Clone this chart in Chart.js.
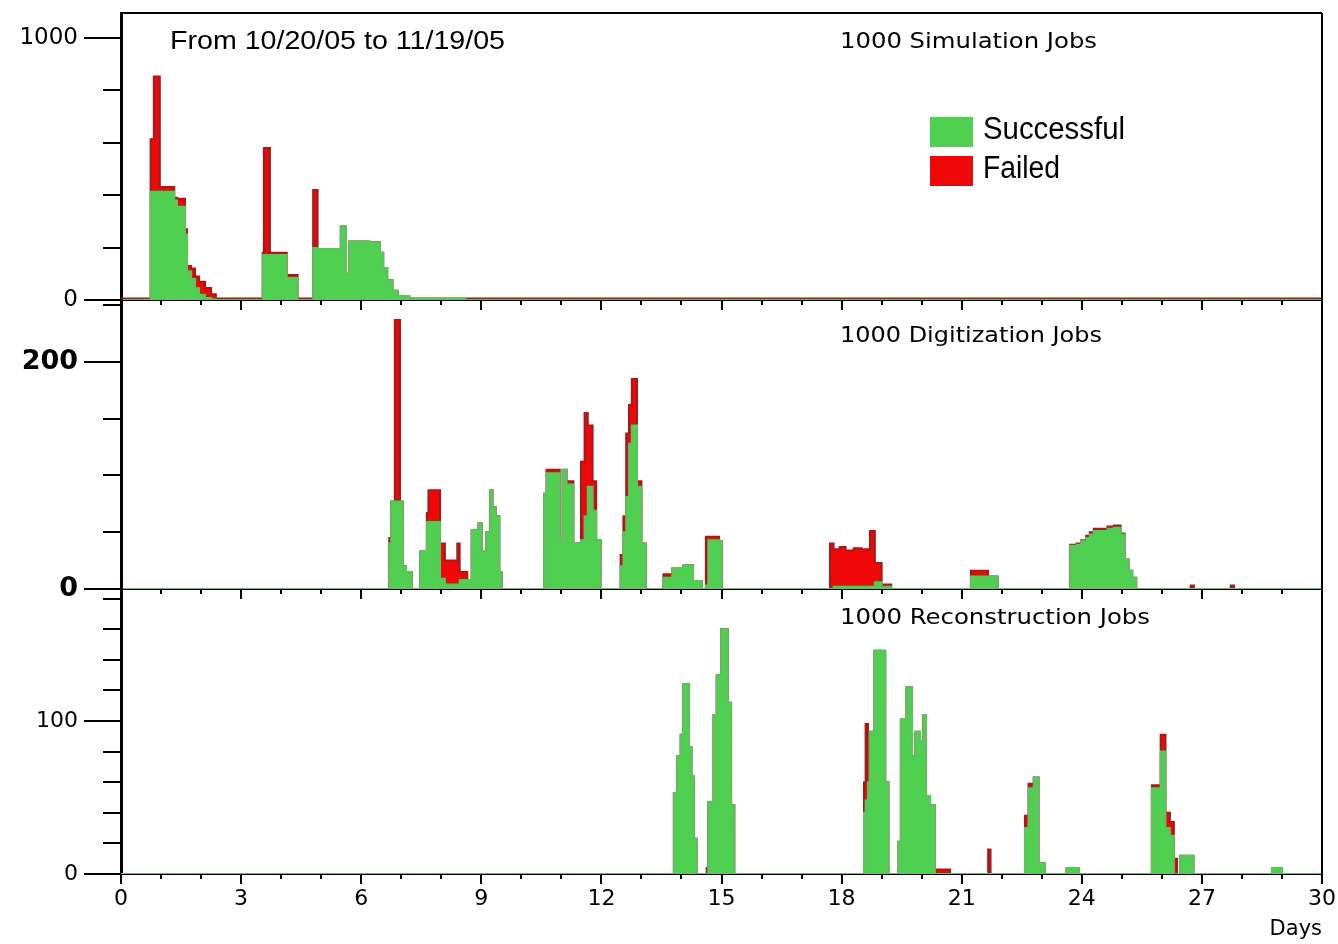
<!DOCTYPE html>
<html>
<head>
<meta charset="utf-8">
<script src="https://cdn.jsdelivr.net/npm/chart.js@4.4.1/dist/chart.umd.min.js"></script>
<style>
  body { margin: 0; background: #fff; }
  #wrap { position: relative; width: 1338px; height: 944px; }
  .panel { position: absolute; left: 0; width: 1338px; }
</style>
</head>
<body>
<div id="wrap">
  <div class="panel" style="top:0;height:320px"><canvas id="simChart"></canvas></div>
  <div class="panel" style="top:290px;height:319px"><canvas id="digiChart"></canvas></div>
  <div class="panel" style="top:580px;height:364px"><canvas id="recoChart"></canvas></div>
</div>
<script>
// Datos: inicio de cada intervalo (dias), trabajos correctos y fallidos
const simDays = [0, 0.74, 0.82, 0.97, 1.33, 1.40, 1.60, 1.65, 1.75, 1.85, 1.95, 2.10, 2.25, 2.37,
  3.54, 3.57, 3.72, 4.14, 4.41,
  4.80, 4.91, 5.49, 5.62, 5.70, 6.20, 6.47, 6.55, 6.65, 6.78, 6.91, 7.20, 8.60, 30];
const simOk = [0, 413, 413, 413, 380, 356, 250, 110, 80, 45, 20, 8, 2, 0,
  172, 172, 172, 84, 0,
  198, 195, 280, 100, 223, 220, 180, 122, 75, 35, 15, 6, 0, 0];
const simFail = [6, 200, 440, 18, 10, 30, 20, 20, 40, 45, 50, 38, 20, 6,
  8, 408, 8, 11, 6,
  222, 0, 0, 0, 0, 0, 0, 0, 0, 0, 0, 0, 6, 6];

const digiDays = [0, 6.70, 6.75, 6.84, 6.97, 7.04, 7.12, 7.26,
  7.47, 7.64, 7.68, 7.97, 8.09, 8.40, 8.46, 8.65,
  8.76, 8.93, 9.01, 9.12, 9.22, 9.28, 9.36, 9.45, 9.51,
  10.57, 10.63, 10.96, 11.03, 11.13, 11.30, 11.49, 11.58, 11.66, 11.78, 11.87, 11.98,
  12.48, 12.55, 12.62, 12.69, 12.76, 12.89, 13.00, 13.11,
  13.55, 13.77, 14.05, 14.29, 14.51, 14.61, 14.67, 14.94, 15.01,
  17.71, 17.80, 17.95, 18.10, 18.30, 18.50, 18.71, 18.83, 19.00, 19.24,
  21.23, 21.66, 21.90,
  23.71, 23.87, 23.99, 24.11, 24.20, 24.30, 24.64, 24.80, 24.97, 25.07, 25.17, 25.26, 25.36,
  26.72, 26.80, 27.72, 27.80, 30];
const digiOk = [0, 40, 77, 77, 77, 20, 15, 0,
  33, 59, 59, 9, 4, 4, 8, 8,
  52, 58, 33, 50, 87, 72, 64, 15, 0,
  84, 102, 43, 105, 92, 40, 43, 64, 90, 69, 43, 0,
  20, 50, 81, 128, 144, 90, 40, 0,
  10, 18, 21, 7, 0, 3, 43, 42, 0,
  0, 2, 2, 2, 2, 2, 2, 6, 2, 0,
  11, 11, 0,
  38, 39, 42, 45, 48, 51, 53, 54, 48, 26, 16, 10, 0,
  0, 0, 0, 0, 0];
const digiFail = [0, 5, 0, 160, 0, 0, 0, 0,
  0, 8, 28, 31, 21, 36, 7, 0,
  0, 0, 0, 0, 0, 0, 0, 0, 0,
  0, 3, 0, 0, 3, 0, 69, 91, 54, 26, 0, 0,
  10, 14, 56, 34, 41, 5, 0, 0,
  3, 0, 0, 0, 0, 43, 3, 0, 0,
  40, 33, 35, 32, 34, 33, 49, 17, 2, 0,
  5, 0, 0,
  1, 1, 1, 2, 2, 2, 2, 2, 1, 0, 0, 0, 0,
  3, 0, 3, 0, 0];

const recoDays = [0, 13.81, 13.89, 13.98, 14.04, 14.19, 14.25, 14.31, 14.38,
  14.63, 14.67, 14.80, 14.88, 14.99, 15.16, 15.24, 15.32,
  18.56, 18.60, 18.66, 18.70, 18.82, 19.09, 19.17,
  19.42, 19.48, 19.62, 19.76, 19.84, 19.96, 20.04, 20.11, 20.21, 20.33, 20.71,
  21.66, 21.72,
  22.58, 22.67, 22.80, 22.92, 23.08, 23.62, 23.92,
  25.75, 25.97, 26.09, 26.20, 26.30, 26.38, 26.46, 26.79,
  28.75, 29.00, 30];
const recoOk = [0, 53, 77, 91, 124, 83, 64, 23, 0,
  0, 47, 104, 130, 160, 112, 45, 0,
  40, 48, 60, 93, 146, 60, 0,
  21, 101, 122, 77, 93, 87, 104, 51, 45, 0, 0,
  0, 0,
  30, 56, 63, 7, 0, 4, 0,
  56, 80, 30, 25, 0, 0, 12, 0,
  4, 0, 0];
const recoFail = [0, 0, 0, 0, 0, 0, 0, 0, 0,
  4, 0, 0, 0, 0, 0, 0, 0,
  20, 50, 0, 0, 0, 0, 0,
  0, 0, 0, 0, 0, 0, 0, 0, 0, 3, 0,
  16, 0,
  8, 3, 0, 0, 0, 0, 0,
  2, 11, 10, 9, 10, 0, 0, 0,
  0, 0, 0];

// Marcas de los ejes
const dayTicks = Array.from({ length: 31 }, (_, i) => i);
const dayLabels = [0, 3, 6, 9, 12, 15, 18, 21, 24, 27, 30];
const simTicks = [0, 200, 400, 600, 800, 1000];
const simTickLabels = ['0', '', '', '', '', '1000'];
const digiTicks = [0, 50, 100, 150, 200, 250];
const digiTickLabels = ['0', '', '', '', '200', ''];
const recoTicks = [0, 20, 40, 60, 80, 100, 120, 140, 160, 180];
const recoTickLabels = ['0', '', '', '', '', '100', '', '', '', ''];

const okFill = '#50d050';
const okLine = '#62bf62';
const failFill = '#ee0808';
const failLine = '#a01c1c';

function fitText(ctx, text, x, y, w, font) {
  ctx.font = font;
  const m = ctx.measureText(text).width;
  ctx.save();
  ctx.translate(x, y);
  ctx.scale(w / m, 1);
  ctx.fillText(text, 0, 0);
  ctx.restore();
}

// Marcas, marco y textos dentro del grafico
const framePlugin = {
  id: 'frame',
  afterDraw(chart, args, opts) {
    const { ctx, chartArea: a, scales } = chart;
    ctx.save();
    ctx.strokeStyle = '#000';
    ctx.lineWidth = 2;
    scales.y.ticks.forEach(t => {
      const py = Math.round(scales.y.getPixelForValue(t.value));
      const len = t.label ? 37 : 18;
      ctx.beginPath();
      ctx.moveTo(a.left - len, py);
      ctx.lineTo(a.left, py);
      ctx.stroke();
    });
    scales.x.ticks.forEach(t => {
      const px = Math.round(scales.x.getPixelForValue(t.value));
      const len = dayLabels.includes(t.value) ? 10 : 5;
      ctx.beginPath();
      ctx.moveTo(px, a.bottom);
      ctx.lineTo(px, a.bottom + len);
      ctx.stroke();
    });
    ctx.beginPath();
    ctx.moveTo(a.right, a.top);
    ctx.lineTo(a.right, a.bottom);
    if (opts.topLine) {
      ctx.moveTo(a.left, a.top);
      ctx.lineTo(a.right, a.top);
    }
    ctx.stroke();

    ctx.fillStyle = '#000';
    ctx.textBaseline = 'middle';
    ctx.textAlign = 'left';
    (opts.texts || []).forEach(t => fitText(ctx, t.text, t.x, t.y, t.w, t.font));

    if (opts.legend) {
      const lg = opts.legend;
      chart.data.datasets.forEach((ds, i) => {
        const by = lg.y + i * lg.gap;
        ctx.fillStyle = ds.backgroundColor;
        ctx.fillRect(lg.x, by, lg.box[0], lg.box[1]);
        ctx.fillStyle = '#000';
        fitText(ctx, ds.label, lg.x + 53, by + lg.box[1] / 2 - 2, lg.widths[i], lg.font);
      });
    }
    ctx.restore();
  }
};

function makeChart(id, days, ok, fail, yMax, yTicks, yLabels, cfg) {
  return new Chart(document.getElementById(id), {
    type: 'line',
    data: {
      datasets: [
        {
          label: 'Successful',
          data: days.map((d, i) => ({ x: d, y: ok[i] })),
          backgroundColor: okFill,
          borderColor: okLine,
          borderWidth: 2,
          fill: 'origin',
          stepped: 'before',
          pointRadius: 0
        },
        {
          label: 'Failed',
          data: days.map((d, i) => ({ x: d, y: fail[i] })),
          backgroundColor: failFill,
          borderColor: failLine,
          borderWidth: 2,
          fill: '-1',
          stepped: 'before',
          pointRadius: 0
        }
      ]
    },
    options: {
      responsive: true,
      maintainAspectRatio: false,
      animation: false,
      layout: { padding: { top: cfg.padTop, right: 16, left: 0, bottom: 0 } },
      plugins: {
        legend: { display: false },
        tooltip: { enabled: false },
        frame: cfg.frame
      },
      scales: {
        x: {
          type: 'linear',
          min: 0,
          max: 30,
          afterBuildTicks: s => { s.ticks = dayTicks.map(v => ({ value: v })); },
          afterFit: s => { s.height = cfg.xHeight; s.paddingLeft = 0; s.paddingRight = 0; },
          grid: { display: false, drawTicks: false },
          border: { color: '#000', width: 2 },
          ticks: {
            display: cfg.showX,
            autoSkip: false,
            maxRotation: 0,
            padding: 12,
            color: '#000',
            font: { family: 'DejaVu Sans', size: 22 },
            callback: v => dayLabels.includes(v) ? String(v) : ''
          },
          title: {
            display: cfg.showX,
            text: 'Days',
            align: 'end',
            color: '#000',
            padding: { top: 0, bottom: 2 },
            font: { family: 'DejaVu Sans', size: 21 }
          }
        },
        y: {
          min: 0,
          max: yMax,
          stacked: true,
          afterBuildTicks: s => { s.ticks = yTicks.map(v => ({ value: v })); },
          afterFit: s => { s.width = 121; s.paddingTop = 0; s.paddingBottom = 0; },
          grid: { display: false, drawTicks: false },
          border: { color: '#000', width: 3 },
          ticks: {
            autoSkip: false,
            padding: 43,
            color: '#000',
            font: cfg.yFont,
            callback: (v, i) => yLabels[i]
          }
        }
      }
    },
    plugins: [framePlugin]
  });
}

makeChart('simChart', simDays, simOk, simFail, 1095, simTicks, simTickLabels, {
  padTop: 13, xHeight: 20, showX: false,
  yFont: { family: 'DejaVu Sans', size: 23 },
  frame: {
    topLine: true,
    texts: [
      { text: 'From 10/20/05 to 11/19/05', x: 170, y: 42, w: 335, font: '26px "Liberation Sans"' },
      { text: '1000 Simulation Jobs', x: 840, y: 43, w: 257, font: '21px "DejaVu Sans"' }
    ],
    legend: { x: 930, y: 117, gap: 39, box: [43, 30], widths: [142, 77], font: '31px "Liberation Sans"' }
  }
});

makeChart('digiChart', digiDays, digiOk, digiFail, 254.6, digiTicks, digiTickLabels, {
  padTop: 10, xHeight: 20, showX: false,
  yFont: { family: 'DejaVu Sans', size: 27, weight: 'bold' },
  frame: {
    texts: [{ text: '1000 Digitization Jobs', x: 840, y: 47, w: 262, font: '21px "DejaVu Sans"' }]
  }
});

makeChart('recoChart', recoDays, recoOk, recoFail, 186.3, recoTicks, recoTickLabels, {
  padTop: 9, xHeight: 70, showX: true,
  yFont: { family: 'DejaVu Sans', size: 22 },
  frame: {
    texts: [{ text: '1000 Reconstruction Jobs', x: 840, y: 39, w: 310, font: '21px "DejaVu Sans"' }]
  }
});
</script>
</body>
</html>
